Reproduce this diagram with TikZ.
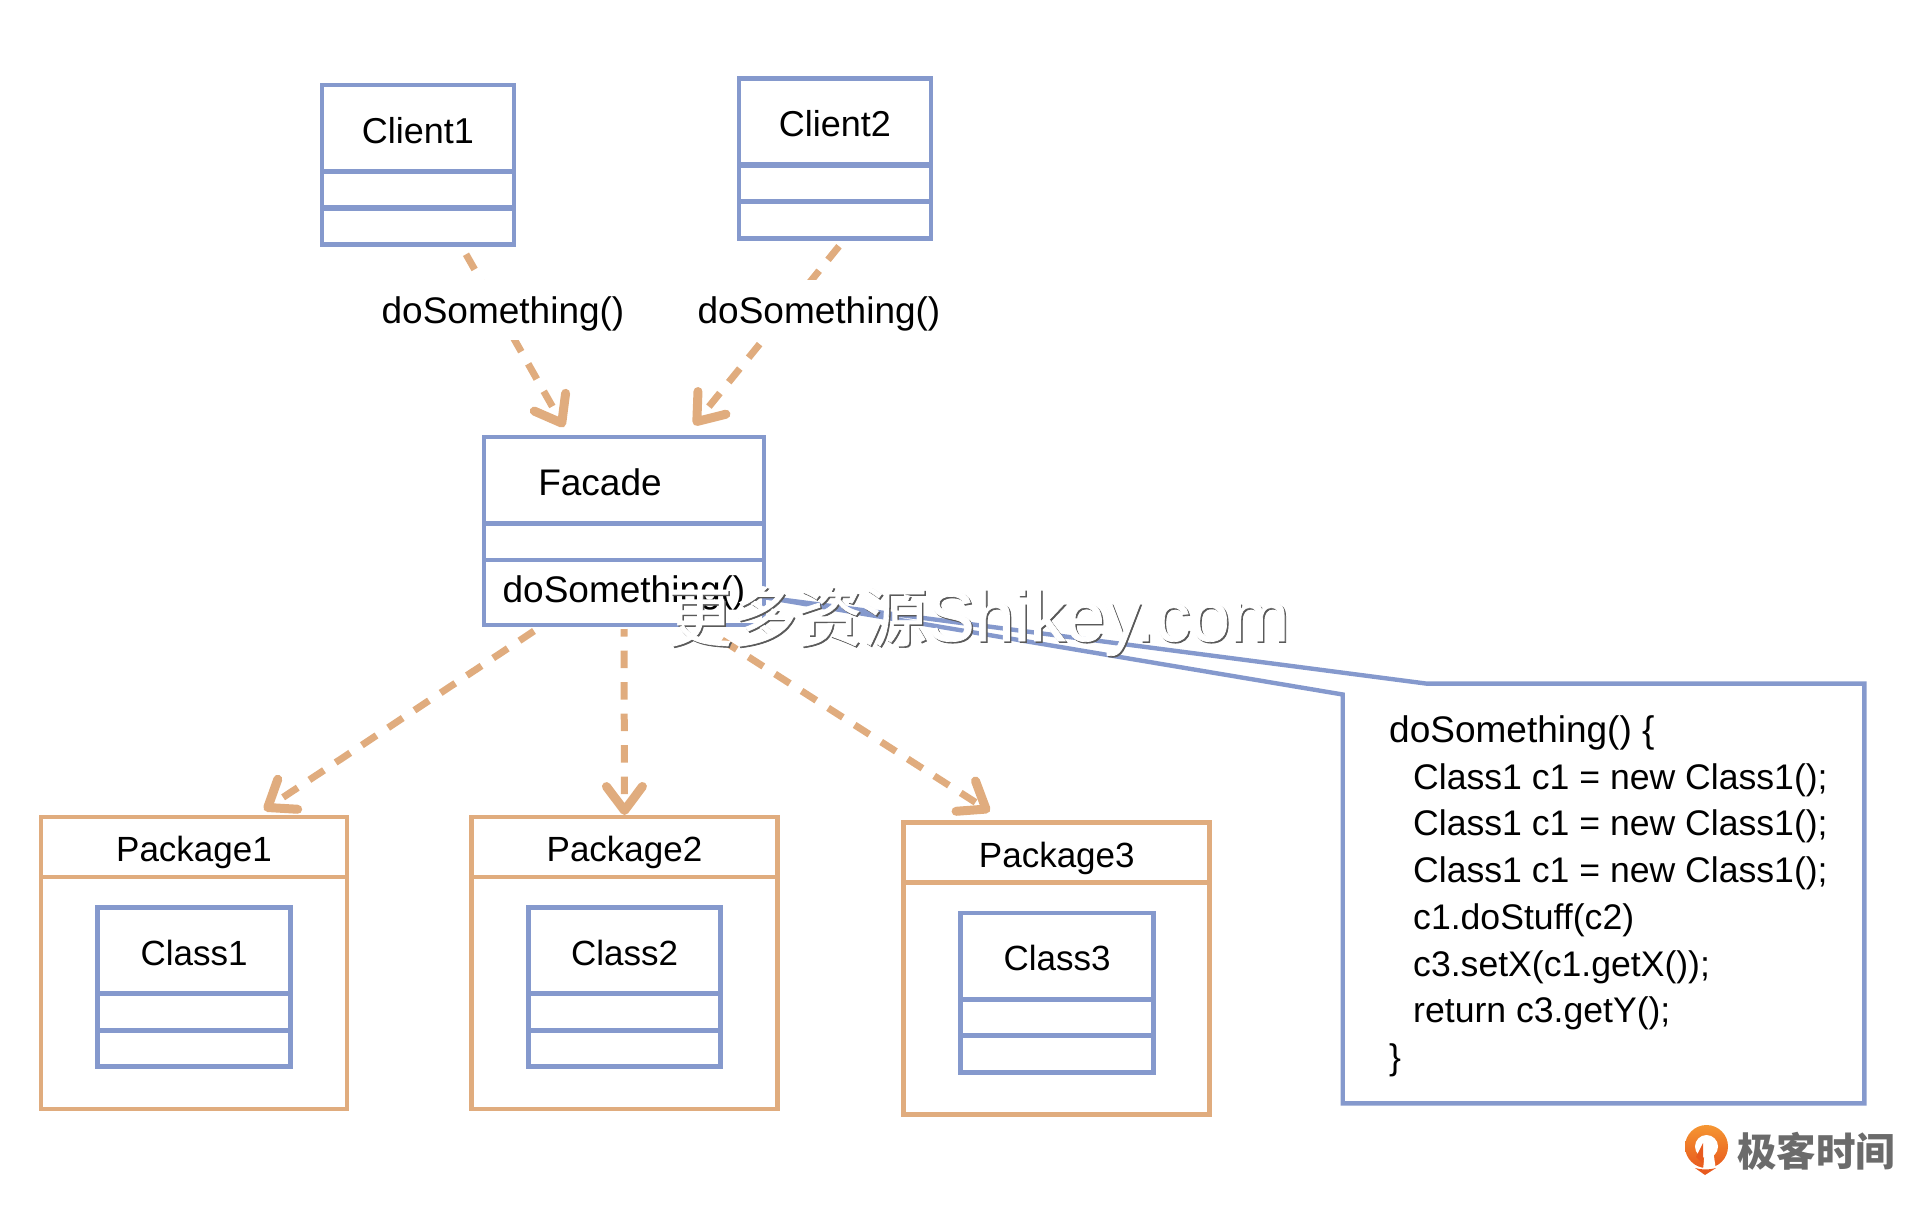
\documentclass[tikz,border=0pt]{standalone}
\usepackage{fontspec}
\setmainfont{Liberation Sans}
\newfontfamily\cjk{Noto Sans CJK SC}
\newfontfamily\markcjk{Noto Sans CJK SC}[FakeBold=1]
\newfontfamily\marklatin{Liberation Sans}[FakeBold=1]
\usetikzlibrary{arrows.meta}
\definecolor{classblue}{RGB}{133,153,205}
\definecolor{pkgorange}{RGB}{224,172,126}
\definecolor{logolight}{RGB}{245,150,50}
\definecolor{logodark}{RGB}{232,90,30}
\newcommand{\bodyfont}{\fontsize{37}{46.7}\selectfont}
\newcommand{\clientfont}{\fontsize{36}{47}\selectfont}
\newcommand{\innerfont}{\fontsize{35}{47}\selectfont}
\newcommand{\codefont}{\fontsize{35.6}{46.7}\selectfont}
\newcommand{\wmtext}{{\markcjk\fontsize{65}{65}\selectfont 更多资源}{\marklatin\fontsize{71}{71}\selectfont Shikey.com}}
\tikzset{
	classhead/.style={draw=classblue,line width=4.8pt,outer sep=0pt,inner sep=0pt,minimum height=86pt,text height=30pt,text depth=0pt},
	classrow/.style={draw=classblue,line width=4.8pt,outer sep=0pt,inner sep=0pt,minimum height=36.5pt},
	pkghead/.style={draw=pkgorange,line width=4.8pt,font=\innerfont,outer sep=0pt,inner sep=0pt,minimum width=306pt,minimum height=60pt,text height=34pt,text depth=5pt},
	pkgbody/.style={draw=pkgorange,line width=4.8pt,outer sep=0pt,inner sep=0pt,minimum width=306pt,minimum height=232pt},
	depends/.style={draw=pkgorange,line width=7pt,dash pattern=on 17.5pt off 14pt,-{Straight Barb[length=24pt,width=36pt,line width=9pt,round]}},
	msglabel/.style={fill=white,font=\bodyfont,inner sep=0pt,minimum height=60pt,text height=32pt,text depth=5pt},
}
\begin{document}
\begin{tikzpicture}[x=1pt,y=-1pt]
	\useasboundingbox (0,0) rectangle (1920,1229);
	
	\begin{scope}[every node/.append style={minimum width=192pt,font=\clientfont}]
		\node [classhead] (client1a) at (418,128) {Client1};
		\node [classrow] (client1b) at (418,190) {};
		\node [classrow] (client1c) at (418,226) {};
		\node [classhead] (client2a) at (835,121.5) {Client2};
		\node [classrow] (client2b) at (835,183.5) {};
		\node [classrow] (client2c) at (835,220) {};
	\end{scope}
	
	\begin{scope}[every node/.append style={minimum width=280pt,font=\bodyfont}]
		\node [classhead] (facadea) at (624,480) {};
		\node [classrow] (facadeb) at (624,541.7) {};
		\node [classrow,minimum height=65pt] (facadec) at (624,592.5) {doSomething()};
	\end{scope}
	\node [font=\bodyfont,inner sep=0pt] (facadename) at (600,482) {Facade};
	
	\node [pkghead] (pkg1a) at (194,847) {Package1};
	\node [pkgbody] (pkg1b) at (194,993) {};
	\node [pkghead] (pkg2a) at (624.5,847) {Package2};
	\node [pkgbody] (pkg2b) at (624.5,993) {};
	\node [pkghead] (pkg3a) at (1056.8,852.5) {Package3};
	\node [pkgbody] (pkg3b) at (1056.8,998.5) {};
	
	\begin{scope}[every node/.append style={minimum width=192.5pt,font=\innerfont}]
		\node [classhead] (class1a) at (194,950.4) {Class1};
		\node [classrow] (class1b) at (194,1012) {};
		\node [classrow] (class1c) at (194,1048.6) {};
		\node [classhead] (class2a) at (624.5,950.4) {Class2};
		\node [classrow] (class2b) at (624.5,1012) {};
		\node [classrow] (class2c) at (624.5,1048.6) {};
		\node [classhead] (class3a) at (1057,955.9) {Class3};
		\node [classrow] (class3b) at (1057,1017.5) {};
		\node [classrow] (class3c) at (1057,1054.1) {};
	\end{scope}
	
	\draw [classblue,line width=4.4pt] ([shift={(2,5)}]facadec.east) -- (1426.5,683.6) -- (1864.4,683.6) -- (1864.4,1103.4) -- (1342.7,1103.4) -- (1342.7,694.5) -- cycle;
	\node [font=\codefont,anchor=north west,inner sep=0pt,align=left] (code) at (1389,715.5) {{\bodyfont doSomething() \{}\\
		\hspace*{24pt}Class1 c1 = new Class1();\\
		\hspace*{24pt}Class1 c1 = new Class1();\\
		\hspace*{24pt}Class1 c1 = new Class1();\\
		\hspace*{24pt}c1.doStuff(c2)\\
		\hspace*{24pt}c3.setX(c1.getX());\\
		\hspace*{24pt}return c3.getY();\\
		\}};
	
	\begin{scope}[every edge/.style={depends}]
		\path ([shift={(48,10)}]client1c.south) edge ([shift={(-60,-10)}]facadea.north);
		\path ([shift={(4,8)}]client2c.south) edge ([shift={(70,-12)}]facadea.north);
		\path ([shift={(-90,6)}]facadec.south) edge ([shift={(70,-7)}]pkg1a.north);
		\path [dash phase=10pt] (facadec.south |- 0,629) edge ([shift={(0,-2)}]pkg2a.north);
		\path ([shift={(98,15)}]facadec.south) edge ([shift={(-67,-11)}]pkg3a.north);
	\end{scope}
	
	\node [msglabel] (msg1) at (503,310) {doSomething()};
	\node [msglabel] (msg2) at (819,310) {doSomething()};
	
	% watermark
	\node [text=black!65,inner sep=0pt,anchor=west] (markshadow) at (668.5,622.5) {\wmtext};
	\node [text=white,inner sep=0pt,anchor=west] (mark) at (667,621) {\wmtext};
	
	% logo
	\shade [top color=logolight,bottom color=logodark] (1706.5,1146.5) circle (21.5pt);
	\fill [white] (1706.5,1146.5) circle (11.5pt);
	\fill [white] (1705,1150) -- (1713,1150) -- (1716,1170) -- (1703,1170) -- cycle;
	\fill [logodark] (1703,1143) -- (1703,1164) -- (1696,1157) -- cycle;
	\fill [logodark] (1695,1168) .. controls (1702,1170) and (1709,1170) .. (1716,1168) -- (1705,1175) -- cycle;
	\node [font={\cjk\bfseries\fontsize{39.5}{40}\selectfont},text=black!58,inner sep=0pt,anchor=west] (logotext) at (1737,1151.5) {极客时间};
\end{tikzpicture}
\end{document}
